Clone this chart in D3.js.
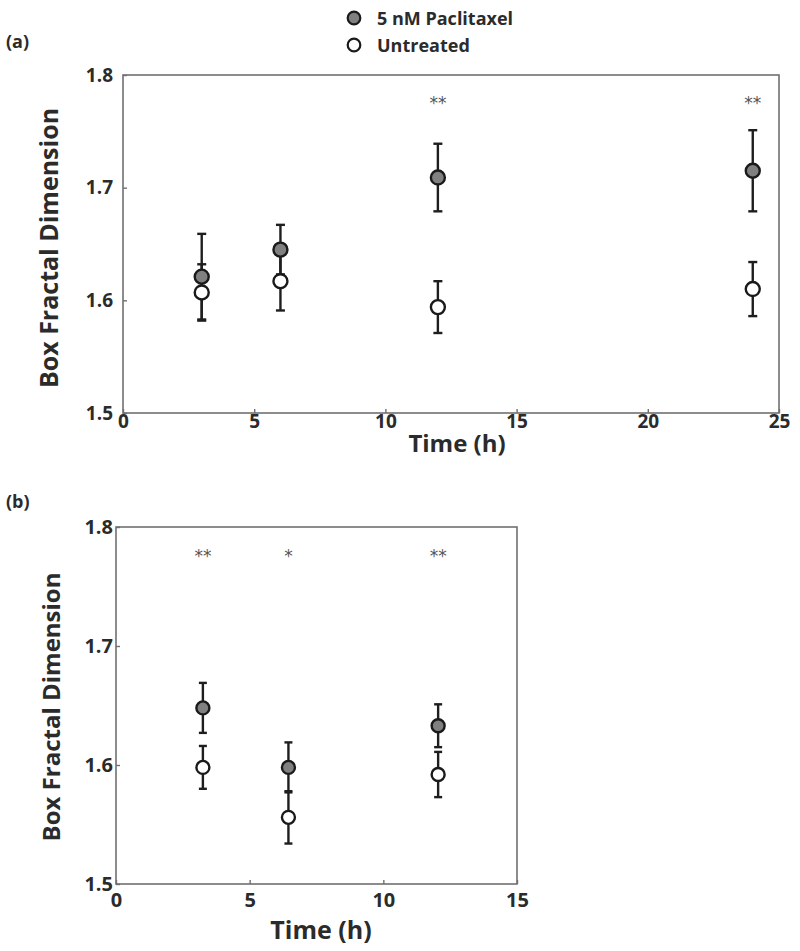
<!DOCTYPE html>
<html>
<head>
<meta charset="utf-8">
<script src="https://cdnjs.cloudflare.com/ajax/libs/d3/7.8.5/d3.min.js"></script>
<style>
  body { margin: 0; background: #fff; }
  text { font-family: "Open Sans", "DejaVu Sans", sans-serif; }
</style>
</head>
<body>
<div id="layout"></div>
<script>
// panel (a) - time course up to 24 h
var timesA = [3, 6, 12, 24];
var paclitaxelA = [1.621, 1.645, 1.709, 1.715];
var paclitaxelErrA = [0.038, 0.022, 0.030, 0.036];
var untreatedA = [1.607, 1.617, 1.594, 1.610];
var untreatedErrA = [0.025, 0.026, 0.023, 0.024];
var sigA = ["", "", "**", "**"];

// panel (b) - short time course
var timesB = [3.25, 6.45, 12.05];
var paclitaxelB = [1.648, 1.598, 1.633];
var paclitaxelErrB = [0.021, 0.021, 0.018];
var untreatedB = [1.598, 1.556, 1.592];
var untreatedErrB = [0.018, 0.022, 0.019];
var sigB = ["**", "*", "**"];

var yTicks = [1.5, 1.6, 1.7, 1.8];
var xTicksA = [0, 5, 10, 15, 20, 25];
var xTicksB = [0, 5, 10, 15];
var seriesNames = ["5 nM Paclitaxel", "Untreated"];
var seriesFill = ["#808080", "#ffffff"];

var svg = d3.select("#layout").append("svg")
    .attr("width", 800)
    .attr("height", 951);

function drawPanel(opt) {
    var xScale = d3.scaleLinear().domain(opt.xDomain).range([opt.left, opt.right]);
    var yScale = d3.scaleLinear().domain([1.5, 1.8]).range([opt.bottom, opt.top]);

    var g = svg.append("g");

    // frame
    g.append("rect")
        .attr("x", opt.left).attr("y", opt.top)
        .attr("width", opt.right - opt.left).attr("height", opt.bottom - opt.top)
        .attr("fill", "none").attr("stroke", "#707070").attr("stroke-width", 1.6);

    var yAxis = d3.axisLeft(yScale).tickValues(yTicks).tickFormat(d3.format(".1f"))
        .tickSize(-4).tickPadding(opt.yPad);
    var xAxis = d3.axisBottom(xScale).tickValues(opt.xTicks).tickFormat(d3.format("d"))
        .tickSize(-4).tickPadding(opt.xPad);

    var ya = g.append("g").attr("transform", "translate(" + opt.left + ",0)").call(yAxis);
    var xa = g.append("g").attr("transform", "translate(0," + opt.bottom + ")").call(xAxis);
    [ya, xa].forEach(function(a) {
        a.select(".domain").remove();
        a.selectAll("line").attr("stroke", "#707070").attr("stroke-width", 1.4);
        a.selectAll("text").attr("fill", "#2b2b2b")
            .style("font-size", opt.tickFont + "px").style("font-weight", "700");
    });

    // axis titles
    g.append("text")
        .attr("transform", "translate(" + opt.yTitleX + "," + opt.yTitleY + ") rotate(-90)")
        .attr("text-anchor", "middle")
        .attr("fill", "#2b2b2b")
        .style("font-size", opt.titleFont + "px").style("font-weight", "700")
        .text("Box Fractal Dimension");
    g.append("text")
        .attr("x", opt.xTitleX).attr("y", opt.xTitleY)
        .attr("text-anchor", "middle")
        .attr("fill", "#2b2b2b")
        .style("font-size", opt.xTitleFont + "px").style("font-weight", "700")
        .text("Time (h)");

    // panel letter
    g.append("text")
        .attr("x", opt.letterX).attr("y", opt.letterY)
        .attr("fill", "#2b2b2b")
        .style("font-size", "18px").style("font-weight", "700")
        .text(opt.letter);

    var series = [
        { vals: opt.pac, errs: opt.pacErr, fill: seriesFill[0] },
        { vals: opt.unt, errs: opt.untErr, fill: seriesFill[1] }
    ];

    // error bars first so the markers sit on top
    series.forEach(function(s) {
        var eb = g.selectAll(null).data(opt.times).enter().append("g")
            .attr("stroke", "#1e1e1e").attr("stroke-width", 2.4);
        eb.append("line")
            .attr("x1", function(d) { return xScale(d); })
            .attr("x2", function(d) { return xScale(d); })
            .attr("y1", function(d, i) { return yScale(s.vals[i] - s.errs[i]); })
            .attr("y2", function(d, i) { return yScale(s.vals[i] + s.errs[i]); });
        [-1, 1].forEach(function(sign) {
            eb.append("line")
                .attr("x1", function(d) { return xScale(d) - opt.cap; })
                .attr("x2", function(d) { return xScale(d) + opt.cap; })
                .attr("y1", function(d, i) { return yScale(s.vals[i] + sign * s.errs[i]); })
                .attr("y2", function(d, i) { return yScale(s.vals[i] + sign * s.errs[i]); });
        });
    });

    series.forEach(function(s) {
        g.selectAll(null).data(opt.times).enter().append("circle")
            .attr("cx", function(d) { return xScale(d); })
            .attr("cy", function(d, i) { return yScale(s.vals[i]); })
            .attr("r", opt.r)
            .attr("fill", s.fill)
            .attr("stroke", "#1a1a1a")
            .attr("stroke-width", 2.4);
    });

    // significance stars
    g.selectAll(null).data(opt.times).enter().append("text")
        .attr("x", function(d) { return xScale(d); })
        .attr("y", yScale(1.778) + 9)
        .attr("text-anchor", "middle")
        .attr("fill", "#555")
        .style("font-size", "17px")
        .style("font-family", "DejaVu Sans, sans-serif")
        .text(function(d, i) { return opt.sig[i]; });
}

drawPanel({
    letter: "(a)", letterX: 6, letterY: 48,
    left: 123, right: 779, top: 75, bottom: 413,
    xDomain: [0, 25], xTicks: xTicksA,
    yPad: 10, xPad: 1, tickFont: 19, titleFont: 25, xTitleFont: 24,
    yTitleX: 58, yTitleY: 248, xTitleX: 457, xTitleY: 452,
    times: timesA, pac: paclitaxelA, pacErr: paclitaxelErrA,
    unt: untreatedA, untErr: untreatedErrA, sig: sigA,
    r: 7, cap: 4.5
});

drawPanel({
    letter: "(b)", letterX: 6, letterY: 508,
    left: 116, right: 517, top: 527, bottom: 884,
    xDomain: [0, 15], xTicks: xTicksB,
    yPad: 3, xPad: 9, tickFont: 20, titleFont: 24, xTitleFont: 25,
    yTitleX: 60, yTitleY: 707, xTitleX: 321, xTitleY: 939,
    times: timesB, pac: paclitaxelB, pacErr: paclitaxelErrB,
    unt: untreatedB, untErr: untreatedErrB, sig: sigB,
    r: 6.5, cap: 4
});

// legend at the top
var legend = svg.append("g");
seriesNames.forEach(function(name, i) {
    legend.append("circle")
        .attr("cx", 354).attr("cy", 18 + i * 27)
        .attr("r", 6.3)
        .attr("fill", seriesFill[i])
        .attr("stroke", "#1a1a1a").attr("stroke-width", 2.2);
    legend.append("text")
        .attr("x", 377).attr("y", 25 + i * 27)
        .attr("fill", "#2b2b2b")
        .style("font-size", "18px").style("font-weight", "700")
        .text(name);
});
</script>
</body>
</html>
